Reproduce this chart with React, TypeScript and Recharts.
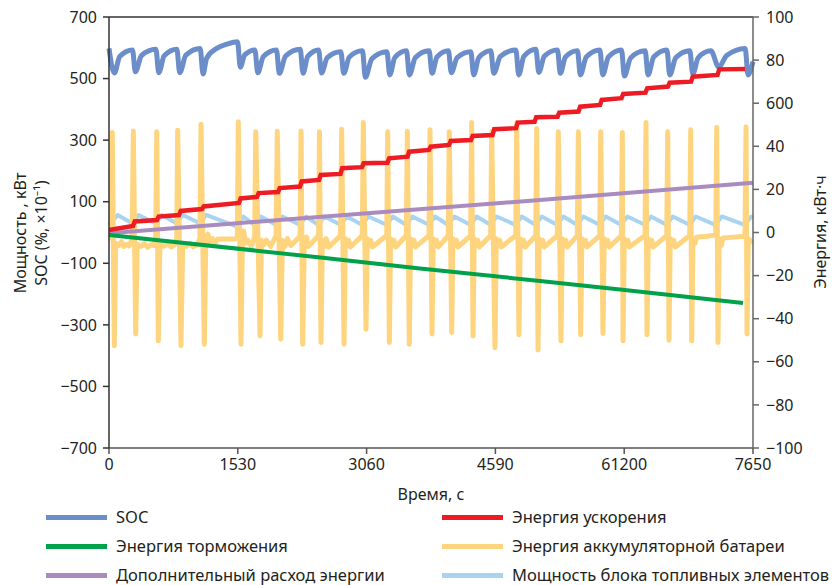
import React from 'react';
import { LineChart, Line, XAxis, YAxis, ReferenceLine } from 'recharts';

const FONT = '"Noto Sans", "Open Sans", sans-serif';
const TEXT = '#231f20';

// ---- axis ticks & labels ----
const xTicks = [0, 1530, 3060, 4590, 6120, 7650];
const xTickLabels = ['0', '1530', '3060', '4590', '61200', '7650'];
const leftTicks = [-700, -500, -300, -100, 100, 300, 500, 700];
const rightTicks = [-100, -80, -60, -40, -20, 0, 20, 40, 60, 80, 100];
const rightTickLabels = ['−100', '−80', '−60', '−40', '−20', '0', '20', '40', '600', '80', '100'];

const xTitle = 'Время, с';
const leftTitle1 = 'Мощность , кВт';
const leftTitle2 = 'SOC (%, ×10⁻¹)';
const rightTitle = 'Энергия, кВт·ч';

// ---- series names & colors ----
const seriesNames = [
  'SOC',
  'Энергия ускорения',
  'Энергия торможения',
  'Энергия аккумуляторной батареи',
  'Дополнительный расход энергии',
  'Мощность блока топливных элементов',
];
const seriesColors = ['#6b8dc9', '#ed1c24', '#00a14b', '#fed47f', '#a98bc0', '#a8d4f1'];

// ---- data: [time s, value] ----
// SOC (%, x10) — left axis
const socPts: [number, number][] = [
  [0, 598], [63, 518], [128, 572], [279, 593],
  [313, 522], [386, 575], [557, 595],
  [591, 519], [656, 574], [806, 595],
  [840, 519], [913, 576], [1083, 598],
  [1117, 515], [1160, 566], [1280, 598], [1400, 612], [1526, 620],
  [1560, 537], [1612, 577], [1733, 593],
  [1767, 519], [1834, 572], [1989, 593],
  [2023, 517], [2097, 573], [2271, 595],
  [2305, 517], [2361, 572], [2490, 593],
  [2524, 518], [2593, 568], [2754, 587],
  [2788, 517], [2855, 570], [3011, 590],
  [3045, 504], [3122, 564], [3301, 587],
  [3335, 512], [3395, 568], [3534, 590],
  [3568, 512], [3639, 568], [3803, 590],
  [3837, 517], [3896, 570], [4032, 590],
  [4066, 519], [4136, 568], [4298, 587],
  [4332, 512], [4393, 568], [4536, 590],
  [4570, 517], [4649, 572], [4833, 593],
  [4867, 512], [4928, 572], [5071, 595],
  [5105, 520], [5172, 573], [5327, 593],
  [5361, 517], [5422, 570], [5565, 590],
  [5599, 512], [5669, 570], [5831, 593],
  [5865, 512], [5932, 570], [6088, 593],
  [6122, 508], [6196, 567], [6369, 590],
  [6403, 512], [6470, 570], [6627, 593],
  [6661, 512], [6733, 568], [6900, 590],
  [6934, 515], [7000, 568], [7150, 590],
  [7243, 537], [7337, 575], [7557, 598],
  [7591, 512], [7650, 555],
];

// Acceleration energy (kWh) — right axis
const accelPts: [number, number][] = [
  [0, 1.2], [285, 3.0], [305, 5.1], [570, 5.8], [590, 7.4], [832, 8.1], [852, 10.0],
  [1105, 10.9], [1125, 12.1], [1544, 13.7], [1564, 15.8], [1758, 16.5], [1778, 18.3],
  [2008, 18.8], [2028, 20.6], [2269, 21.3], [2289, 23.7], [2495, 24.4], [2515, 26.7],
  [2750, 27.2], [2770, 29.8], [3005, 30.3], [3025, 32.1], [3308, 32.4], [3328, 34.4],
  [3546, 35.2], [3566, 37.5], [3801, 38.3], [3821, 39.8], [4039, 40.6], [4059, 42.5],
  [4300, 42.9], [4320, 44.8], [4556, 45.2], [4576, 47.9], [4835, 48.4], [4855, 51.0],
  [5055, 51.4], [5075, 53.5], [5328, 53.7], [5348, 55.6], [5577, 56.1], [5597, 58.4],
  [5833, 59.2], [5853, 61.5], [6088, 62.3], [6108, 64.3], [6373, 64.9], [6393, 66.9],
  [6640, 67.7], [6660, 69.5], [6914, 70.0], [6934, 72.3], [7229, 73.1], [7249, 75.7],
  [7555, 75.9],
];

// Braking energy (kWh) — right axis
const brakePts: [number, number][] = [
  [0, -1.2], [2566, -11.8], [3694, -16.7], [5120, -22.5], [6070, -26.4], [7531, -32.7],
];

// Battery power (kW) — left axis
const batteryPts: [number, number][] = [
  [0, -20], [25, -15], [39, 325], [63, -368], [80, -35], [120, -42], [150, -30], [175, -45], [210, -38], [240, -44], [275, -20],
  [289, 330], [317, -330], [335, -38], [380, -45], [420, -36], [460, -48], [500, -40], [540, -42], [555, -20],
  [567, 327], [586, -352], [605, -35], [650, -45], [700, -38], [740, -47], [780, -40], [805, -20],
  [816, 332], [855, -368], [875, -38], [920, -45], [960, -35], [1000, -46], [1050, -40], [1080, -18],
  [1093, 352], [1132, -363], [1150, -25], [1175, -5], [1200, -30], [1230, -20], [1260, -35], [1290, -22], [1330, -21], [1500, -21], [1525, -15],
  [1536, 360], [1568, -363], [1585, -20], [1600, 5], [1620, -35], [1650, -25], [1690, -45], [1730, -15],
  [1743, 327], [1794, -336], [1810, -25], [1840, -40], [1870, -25], [1920, -45], [1985, -10],
  [1999, 329], [2040, -347], [2060, -25], [2090, -45], [2120, -20], [2160, -42], [2270, -12],
  [2281, 330], [2301, -363], [2320, -30], [2345, -15], [2370, -45], [2490, -10],
  [2500, 327], [2518, -357], [2535, -25], [2560, -45], [2580, -20], [2610, -48], [2750, -10],
  [2764, 335], [2792, -363], [2807, -20], [2832, -42], [2847, -25], [2867, -47], [3009, -10],
  [3021, 357], [3053, -314], [3068, -20], [3093, -42], [3108, -25], [3128, -47], [3299, -10],
  [3311, 327], [3330, -357], [3345, -20], [3370, -42], [3385, -25], [3405, -47], [3532, -10],
  [3544, 329], [3567, -363], [3582, -20], [3607, -42], [3622, -25], [3642, -47], [3801, -10],
  [3813, 334], [3837, -330], [3852, -20], [3877, -42], [3892, -25], [3912, -47], [4030, -10],
  [4042, 327], [4071, -325], [4086, -20], [4111, -42], [4126, -25], [4146, -47], [4296, -10],
  [4308, 357], [4324, -336], [4339, -20], [4364, -42], [4379, -25], [4399, -47], [4534, -10],
  [4546, 327], [4585, -374], [4600, -20], [4625, -42], [4640, -25], [4660, -47], [4831, -10],
  [4843, 357], [4870, -332], [4885, -20], [4910, -42], [4925, -25], [4945, -47], [5069, -10],
  [5081, 338], [5096, -382], [5111, -20], [5136, -42], [5151, -25], [5171, -47], [5325, -10],
  [5337, 327], [5369, -352], [5384, -20], [5409, -42], [5424, -25], [5444, -47], [5563, -10],
  [5575, 327], [5603, -332], [5618, -20], [5643, -42], [5658, -25], [5678, -47], [5829, -10],
  [5841, 327], [5868, -328], [5883, -20], [5908, -42], [5923, -25], [5943, -47], [6086, -10],
  [6098, 325], [6106, -352], [6121, -20], [6146, -42], [6161, -25], [6181, -47], [6367, -10],
  [6379, 357], [6391, -332], [6406, -20], [6431, -42], [6446, -25], [6466, -47], [6625, -10],
  [6637, 327], [6652, -350], [6667, -20], [6692, -42], [6707, -25], [6727, -47], [6898, -10],
  [6910, 334], [6922, -352], [6937, -20], [6962, -35], [6980, -15], [7100, -12], [7207, -8],
  [7219, 341], [7234, -357], [7249, -20], [7274, -42], [7295, -18], [7420, -15], [7555, -12],
  [7567, 343], [7579, -330], [7594, -20], [7620, -30], [7650, -25],
];

// Auxiliary energy consumption (kWh) — right axis
const auxPts: [number, number][] = [
  [0, -0.3], [2566, 7.4], [5120, 15.1], [7650, 23.1],
];

// Fuel cell power (kW) — left axis
const fuelCellPts: [number, number][] = [
  [0, 25], [103, 57], [274, 30], [350, 57], [552, 30], [625, 57], [801, 30], [876, 57],
  [1078, 30], [1153, 57], [1521, 19], [1596, 52], [1728, 25], [1803, 52], [1984, 25], [2059, 52],
  [2266, 25], [2341, 52], [2485, 25], [2560, 52], [2749, 25], [2824, 52], [3006, 25], [3081, 52],
  [3296, 25], [3371, 52], [3529, 25], [3604, 52], [3798, 25], [3873, 52], [4027, 25], [4102, 52],
  [4293, 25], [4368, 52], [4531, 25], [4606, 52], [4828, 25], [4903, 52], [5066, 25], [5141, 52],
  [5322, 25], [5397, 52], [5560, 25], [5635, 52], [5826, 25], [5901, 52], [6083, 25], [6158, 52],
  [6364, 25], [6439, 52], [6622, 25], [6697, 52], [6895, 25], [6970, 52], [7204, 25], [7279, 52],
  [7552, 25], [7627, 52], [7650, 48],
];

const toRows = (pts: [number, number][]) => pts.map(([t, v]) => ({ t, v }));

const socData = toRows(socPts);
const accelData = toRows(accelPts);
const brakeData = toRows(brakePts);
const batteryData = toRows(batteryPts);
const auxData = toRows(auxPts);
const fuelData = toRows(fuelCellPts);

const fmtMinus = (v: number) => String(v).replace('-', '−');

const tickStyle = { fill: TEXT, fontSize: 16, fontFamily: FONT };

const legendRows = [
  [0, 1],
  [2, 3],
  [4, 5],
];

export default function App() {
  return (
    <div style={{ position: 'absolute', left: 0, top: 0, width: 840, height: 585, overflow: 'hidden', background: '#fff', fontFamily: FONT }}>
      <LineChart width={840} height={505} margin={{ top: 17, right: 0, bottom: 0, left: 0 }}>
        <XAxis
          type="number"
          dataKey="t"
          domain={[0, 7650]}
          ticks={xTicks}
          interval={0}
          tickFormatter={(v: number) => xTickLabels[xTicks.indexOf(v)]}
          height={57}
          tickSize={6}
          tickMargin={5}
          axisLine={{ stroke: '#555', strokeWidth: 1.5 }}
          tickLine={{ stroke: '#555', strokeWidth: 1.5 }}
          tick={tickStyle}
        />
        <YAxis
          yAxisId="L"
          domain={[-700, 700]}
          ticks={leftTicks}
          interval={0}
          width={109}
          tickSize={6}
          tickMargin={6}
          tickFormatter={fmtMinus}
          axisLine={{ stroke: '#333', strokeWidth: 1.5 }}
          tickLine={{ stroke: '#333', strokeWidth: 1.5 }}
          tick={tickStyle}
        />
        <YAxis
          yAxisId="R"
          orientation="right"
          domain={[-100, 100]}
          ticks={rightTicks}
          interval={0}
          width={87}
          tickSize={6}
          tickMargin={7}
          tickFormatter={(v: number) => rightTickLabels[rightTicks.indexOf(v)]}
          axisLine={{ stroke: '#666', strokeWidth: 1.5 }}
          tickLine={{ stroke: '#666', strokeWidth: 1.5 }}
          tick={tickStyle}
        />
        <ReferenceLine yAxisId="L" y={700} stroke="#333" strokeWidth={1.5} />
        <Line data={fuelData} dataKey="v" yAxisId="L" type="linear" stroke={seriesColors[5]} strokeWidth={4} dot={false} isAnimationActive={false} strokeLinejoin="round" />
        <Line data={batteryData} dataKey="v" yAxisId="L" type="linear" stroke={seriesColors[3]} strokeWidth={5} dot={false} isAnimationActive={false} strokeLinejoin="round" />
        <Line data={socData} dataKey="v" yAxisId="L" type="monotone" stroke={seriesColors[0]} strokeWidth={5} dot={false} isAnimationActive={false} strokeLinejoin="round" />
        <Line data={auxData} dataKey="v" yAxisId="R" type="linear" stroke={seriesColors[4]} strokeWidth={4} dot={false} isAnimationActive={false} />
        <Line data={brakeData} dataKey="v" yAxisId="R" type="linear" stroke={seriesColors[2]} strokeWidth={4} dot={false} isAnimationActive={false} />
        <Line data={accelData} dataKey="v" yAxisId="R" type="linear" stroke={seriesColors[1]} strokeWidth={4.5} dot={false} isAnimationActive={false} />
      </LineChart>

      <svg width={840} height={585} style={{ position: 'absolute', left: 0, top: 0, pointerEvents: 'none' }}>
        <text x={431} y={494} textAnchor="middle" dominantBaseline="central" fontSize={16} fontFamily={FONT} fill={TEXT}>{xTitle}</text>
        <text x={20} y={233} textAnchor="middle" dominantBaseline="central" fontSize={16} fontFamily={FONT} fill={TEXT} transform="rotate(-90 20 233)">{leftTitle1}</text>
        <text x={41} y={233} textAnchor="middle" dominantBaseline="central" fontSize={16} fontFamily={FONT} fill={TEXT} transform="rotate(-90 41 233)">{leftTitle2}</text>
        <text x={820} y={232} textAnchor="middle" dominantBaseline="central" fontSize={16} fontFamily={FONT} fill={TEXT} transform="rotate(-90 820 232)">{rightTitle}</text>
      </svg>

      {legendRows.map((row, r) =>
        row.map((idx, c) => (
          <div
            key={`${r}-${c}`}
            style={{
              position: 'absolute',
              left: c === 0 ? 46 : 442,
              top: 517 + r * 29 - 9,
              height: 18,
              lineHeight: '18px',
              display: 'flex',
              alignItems: 'center',
              whiteSpace: 'nowrap',
              fontSize: 16.5,
              color: TEXT,
              fontFamily: FONT,
            }}
          >
            <span style={{ display: 'inline-block', width: 61, height: 5, background: seriesColors[idx] }} />
            <span style={{ marginLeft: 9 }}>{seriesNames[idx]}</span>
          </div>
        ))
      )}
    </div>
  );
}
